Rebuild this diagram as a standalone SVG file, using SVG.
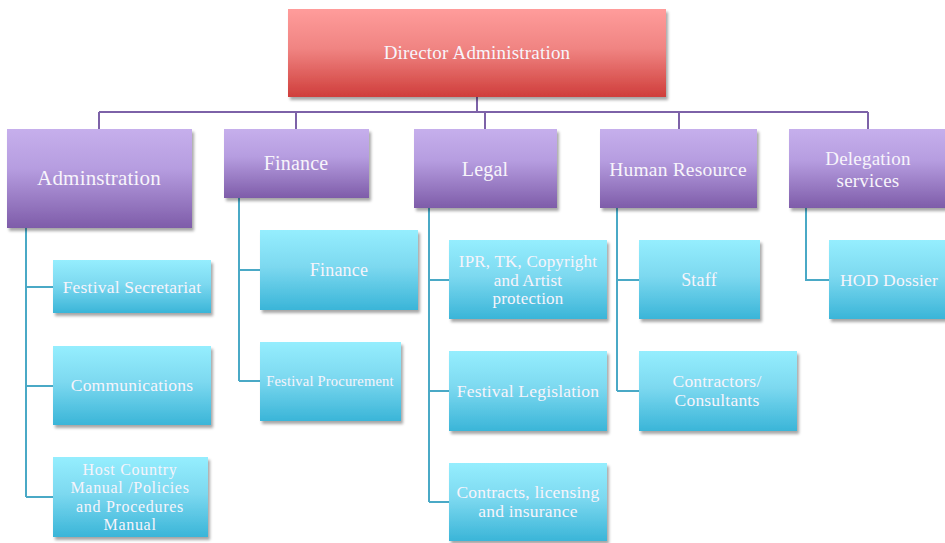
<svg xmlns="http://www.w3.org/2000/svg" width="945" height="543" viewBox="0 0 945 543">
<defs>
<linearGradient id="gRed" x1="0" y1="0" x2="0" y2="1"><stop offset="0" stop-color="#ff9c9b"/><stop offset="0.45" stop-color="#f08482"/><stop offset="1" stop-color="#cf3e3b"/></linearGradient>
<linearGradient id="gPur" x1="0" y1="0" x2="0" y2="1"><stop offset="0" stop-color="#c6afec"/><stop offset="0.4" stop-color="#b69de0"/><stop offset="1" stop-color="#7e5ca9"/></linearGradient>
<linearGradient id="gCy" x1="0" y1="0" x2="0" y2="1"><stop offset="0" stop-color="#95eefe"/><stop offset="0.45" stop-color="#7dd9f0"/><stop offset="1" stop-color="#3ab5d8"/></linearGradient>
<filter id="sh" x="-10%" y="-10%" width="130%" height="140%"><feGaussianBlur in="SourceAlpha" stdDeviation="1.8"/><feOffset dx="2" dy="3" result="b"/><feComponentTransfer><feFuncA type="linear" slope="0.35"/></feComponentTransfer><feMerge><feMergeNode/><feMergeNode in="SourceGraphic"/></feMerge></filter>
</defs>
<style>
.red{fill:url(#gRed);filter:url(#sh)}
.pur{fill:url(#gPur);filter:url(#sh)}
.cy{fill:url(#gCy);filter:url(#sh)}
text{font-family:"Liberation Serif","DejaVu Serif",serif;fill:#f7f4fb;text-anchor:middle;letter-spacing:0.2px}
.c{font-size:17.5px}
.h{font-size:16px;letter-spacing:0.7px}
.l1{stroke:#7d62a8;stroke-width:2;fill:none}
.l2{stroke:#4aa9c6;stroke-width:2;fill:none}
</style>
<rect width="945" height="543" fill="#ffffff"/>
<g id="connectors">
<path class="l1" d="M477 97V112M99 112H868M99 112V129M296 112V129M485 112V129M679 112V129M868 112V129"/>
<path class="l2" d="M26 228V497M26 287H53M26 386H53M26 497H53"/>
<path class="l2" d="M239 198V381M239 270H260M239 381H260"/>
<path class="l2" d="M429 208V502M429 280H449M429 391H449M429 502H449"/>
<path class="l2" d="M617 208V391M617 280H639M617 391H639"/>
<path class="l2" d="M806 208V280H829"/>
</g>
<g id="director"><rect class="red" x="288" y="9" width="378" height="88"/><text x="477" y="58.5" font-size="19">Director Administration</text></g>
<g id="adminstration"><rect class="pur" x="7" y="129" width="185" height="99"/><text x="99" y="185" font-size="21">Adminstration</text></g>
<g id="finance"><rect class="pur" x="224" y="129" width="145" height="69"/><text x="296" y="169.5" font-size="20">Finance</text></g>
<g id="legal"><rect class="pur" x="414" y="129" width="143" height="79"/><text x="485" y="175.5" font-size="20">Legal</text></g>
<g id="hr"><rect class="pur" x="600" y="129" width="157" height="79"/><text x="678" y="175.5" font-size="19.5">Human Resource</text></g>
<g id="delegation"><rect class="pur" x="789" y="129" width="160" height="79"/><text x="868" y="164.5" font-size="19">Delegation</text><text x="868" y="186.5" font-size="19">services</text></g>
<g id="fest-sec"><rect class="cy" x="53" y="260" width="158" height="53"/><text class="c" x="132" y="293">Festival Secretariat</text></g>
<g id="communications"><rect class="cy" x="53" y="346" width="158" height="79"/><text class="c" x="132" y="391">Communications</text></g>
<g id="host-country"><rect class="cy" x="53" y="457" width="155" height="80"/><text class="h" x="130" y="474.5">Host Country</text><text class="h" x="130" y="493">Manual /Policies</text><text class="h" x="130" y="511.5">and Procedures</text><text class="h" x="130" y="530">Manual</text></g>
<g id="finance-child"><rect class="cy" x="260" y="230" width="158" height="80"/><text x="339" y="275.5" font-size="18">Finance</text></g>
<g id="procurement"><rect class="cy" x="260" y="342" width="141" height="79"/><text x="330" y="386" font-size="14.5">Festival Procurement</text></g>
<g id="ipr"><rect class="cy" x="449" y="240" width="158" height="79"/><text x="528" y="266.5" font-size="17">IPR, TK, Copyright</text><text x="528" y="285.5" font-size="17">and Artist</text><text x="528" y="303.5" font-size="17">protection</text></g>
<g id="legislation"><rect class="cy" x="449" y="351" width="158" height="80"/><text class="c" x="528" y="396.5">Festival Legislation</text></g>
<g id="contracts"><rect class="cy" x="449" y="463" width="158" height="78"/><text class="c" x="528" y="497.5">Contracts, licensing</text><text class="c" x="528" y="516.5">and insurance</text></g>
<g id="staff"><rect class="cy" x="639" y="240" width="121" height="79"/><text x="699" y="285.5" font-size="18">Staff</text></g>
<g id="contractors"><rect class="cy" x="639" y="351" width="158" height="80"/><text class="c" x="717" y="386.5">Contractors/</text><text class="c" x="717" y="405.5">Consultants</text></g>
<g id="hod"><rect class="cy" x="829" y="240" width="120" height="79"/><text class="c" x="889" y="285.5">HOD Dossier</text></g>
</svg>
